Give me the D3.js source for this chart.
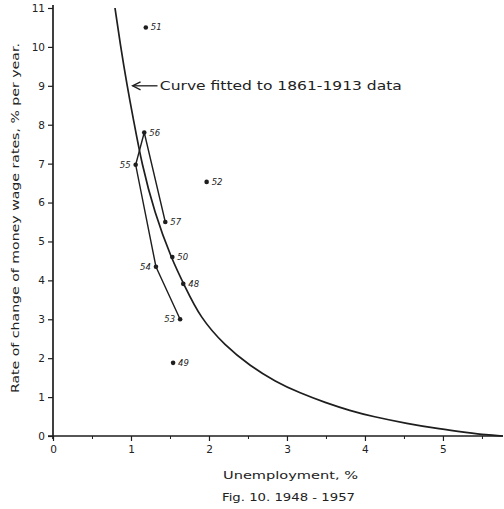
<!DOCTYPE html>
<html><head><meta charset="utf-8">
<script src="https://cdn.jsdelivr.net/npm/d3@7"></script>
<style>
html,body{margin:0;padding:0;background:#fff;}
svg{display:block;}
text{font-family:"DejaVu Sans",sans-serif;fill:#222;}
</style></head>
<body>
<script>
// ---- data ----
const years = ["51","56","55","57","52","50","54","48","53","49"];
const unemployment = [1.19,1.17,1.06,1.44,1.97,1.53,1.32,1.67,1.63,1.54];
const wageChange = [10.5,7.8,6.97,5.5,6.53,4.6,4.35,3.91,3.0,1.88];
const labelSide = ["r","r","l","r","r","r","l","r","l","r"];
const loopYears = ["53","54","55","56","57"];
const curveX = [0.795,0.86,0.95,1.03,1.137,1.3,1.52,1.69,1.885,2.205,2.53,2.85,3.17,3.49,3.81,4.10,4.54,4.96,5.31,5.55,5.77];
const curveY = [11.0,10.1,9.0,8.15,7.0,5.75,4.55,3.85,3.05,2.32,1.8,1.4,1.1,0.86,0.65,0.5,0.32,0.18,0.09,0.03,0.0];
const xTicks = [0,1,2,3,4,5];
const xMinor = [0.5,1.5,2.5,3.5,4.5,5.5];
const yTicks = [0,1,2,3,4,5,6,7,8,9,10,11];
const xTitle = "Unemployment,  %";
const yTitle = "Rate of change of money wage rates, % per year.";
const caption = "Fig. 10.  1948 - 1957";
const annotation = "Curve fitted to 1861-1913 data";

const W=504,H=509;
const svg=d3.select("body").append("svg").attr("width",W).attr("height",H);
const x=d3.scaleLinear().domain([0,5.77]).range([53,503]);
const y=d3.scaleLinear().domain([0,11]).range([436,8]);
const ink="#1e1e1e";

// axes
const gy=svg.append("g").attr("transform",`translate(${x(0)},0)`)
  .call(d3.axisLeft(y).tickValues(yTicks).tickSize(5).tickSizeOuter(0).tickPadding(3).tickFormat(d3.format("d")));
gy.select(".domain").remove();
gy.selectAll("line").attr("stroke",ink).attr("stroke-width",1.2);
gy.selectAll("text").style("font-size","10.5px").attr("fill",ink);

const gx=svg.append("g").attr("transform",`translate(0,${y(0)})`)
  .call(d3.axisBottom(x).tickValues(xTicks).tickSize(5).tickSizeOuter(0).tickPadding(5).tickFormat(d3.format("d")));
gx.select(".domain").remove();
gx.selectAll("line").attr("stroke",ink).attr("stroke-width",1.2);
gx.selectAll("text").style("font-size","10.5px").attr("fill",ink);
const gxm=svg.append("g").attr("transform",`translate(0,${y(0)})`)
  .call(d3.axisBottom(x).tickValues(xMinor).tickSize(3).tickSizeOuter(0).tickFormat(""));
gxm.select(".domain").remove();
gxm.selectAll("line").attr("stroke",ink).attr("stroke-width",1);

// axis lines
svg.append("line").attr("x1",x(0)).attr("x2",x(0)).attr("y1",y(0)+3).attr("y2",y(11)-3)
  .attr("stroke",ink).attr("stroke-width",1.7);
svg.append("line").attr("x1",x(0)-5).attr("x2",x(5.77)).attr("y1",y(0)).attr("y2",y(0))
  .attr("stroke",ink).attr("stroke-width",1.7);

// fitted curve
const cpts=curveX.map((v,i)=>[v,curveY[i]]);
svg.append("path").datum(cpts)
  .attr("d",d3.line().x(d=>x(d[0])).y(d=>y(d[1])).curve(d3.curveBasis))
  .attr("fill","none").attr("stroke",ink).attr("stroke-width",1.7);

// loop 53-57
const lp=loopYears.map(yr=>{const i=years.indexOf(yr);return [unemployment[i],wageChange[i]];});
svg.append("path").datum(lp)
  .attr("d",d3.line().x(d=>x(d[0])).y(d=>y(d[1])))
  .attr("fill","none").attr("stroke",ink).attr("stroke-width",1.4);

// points
years.forEach((yr,i)=>{
  const px=x(unemployment[i]),py=y(wageChange[i]);
  svg.append("circle").attr("cx",px).attr("cy",py).attr("r",2.3).attr("fill",ink);
  svg.append("text").attr("x",labelSide[i]==="r"?px+5:px-5).attr("y",py+3)
    .attr("text-anchor",labelSide[i]==="r"?"start":"end")
    .style("font-size","8.5px").style("font-style","italic").text(yr);
});

// annotation arrow
const ay=y(9);
svg.append("line").attr("x1",x(1.02)).attr("x2",x(1.34)).attr("y1",ay).attr("y2",ay)
  .attr("stroke",ink).attr("stroke-width",1.3);
svg.append("path").attr("d",`M${x(1.02)+8},${ay-4}L${x(1.02)},${ay}L${x(1.02)+8},${ay+4}`)
  .attr("fill","none").attr("stroke",ink).attr("stroke-width",1.3);
svg.append("text").attr("x",x(1.37)).attr("y",ay+4).style("font-size","11.5px")
  .attr("textLength",242).attr("lengthAdjust","spacingAndGlyphs").text(annotation);

// titles
svg.append("text").attr("transform",`translate(19,${y(5.6)}) rotate(-90)`).attr("text-anchor","middle")
  .style("font-size","10.5px").attr("textLength",350).attr("lengthAdjust","spacingAndGlyphs").text(yTitle);
svg.append("text").attr("x",223).attr("y",479).style("font-size","10.5px")
  .attr("textLength",135).attr("lengthAdjust","spacingAndGlyphs").text(xTitle);
svg.append("text").attr("x",222).attr("y",501).style("font-size","11px")
  .attr("textLength",133).attr("lengthAdjust","spacingAndGlyphs").text(caption);
</script>
</body></html>
